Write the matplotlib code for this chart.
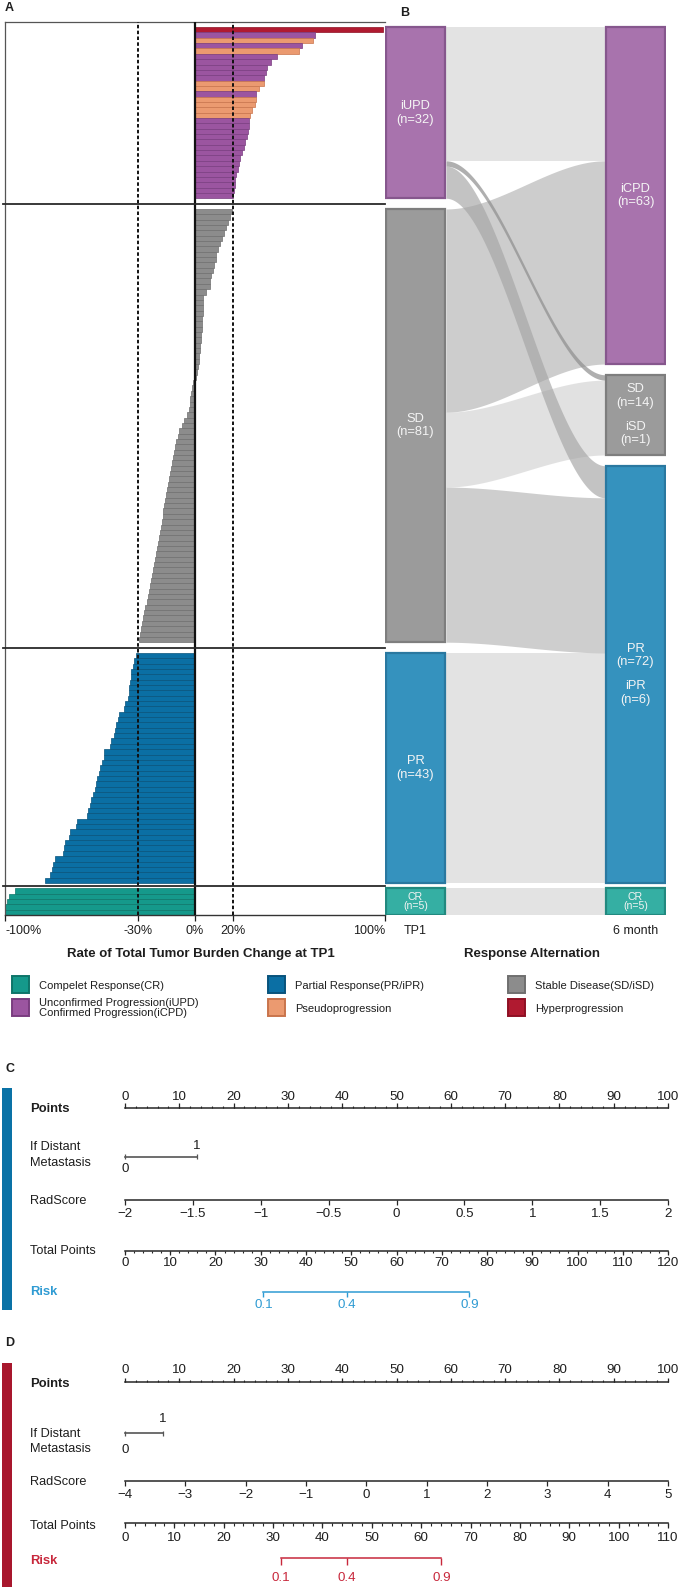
import matplotlib
matplotlib.use("Agg")
import matplotlib.pyplot as plt
import numpy as np
from matplotlib.patches import Rectangle

plt.rcParams['font.family'] = ['Liberation Sans', 'DejaVu Sans']
plt.rcParams['font.size'] = 9
plt.rcParams['text.color'] = '#1e1e1e'
plt.rcParams['xtick.color'] = '#1e1e1e'

# ---------------- data ----------------
# A: rate of total tumour burden change at TP1 (%), one value per patient, top to bottom
pd_change = [99, 63.3, 62, 56.3, 54.7, 43.3, 40, 38, 37.2, 36.5, 36.5, 33.5, 32.3, 32, 31.8,
             30.2, 28.8, 28.6, 28.2, 27.9, 27.4, 26.5, 25.6, 24.9, 23.7, 23, 22.5, 21.8,
             21.2, 20.9, 20.5, 20.2]
pd_type = ['H', 'U', 'P', 'U', 'P', 'U', 'U', 'U', 'U', 'U', 'P', 'P', 'U', 'P', 'P', 'P', 'P'] + ['U'] * 15
sd_change = [19.3, 18.4, 17.2, 16.1, 15.3, 14.0, 13.2, 11.9, 11.2, 10.9, 10.2, 9.3, 8.4, 7.9,
             7.7, 5.6, 4.4, 4.2, 4.0, 4.0, 3.9, 3.7, 3.5, 3.3, 3.0, 2.8, 2.6, 2.3, 1.9, 1.4,
             1.0, 0.4,
             -1.2, -1.6, -2.0, -2.4, -2.8, -3.3, -4.2, -5.6, -7.0, -8.3,
             -9.0, -9.8, -10.4, -10.9, -11.5, -12.0, -12.6, -13.1, -13.6, -14.2,
             -14.7, -15.1, -15.6, -16.1, -16.6, -17.0, -17.5, -17.9, -18.4, -18.8,
             -19.3, -19.8, -20.3, -20.8, -21.4, -22.0, -22.6, -23.1, -23.7, -24.3,
             -24.9, -25.5, -26.1, -26.7, -27.3, -27.9, -28.5, -29.1, -29.6]
pr_change = [-31, -31.9, -32.8, -33.5, -33.7, -34.2, -34.6, -34.9, -35.4, -36.7, -37.4, -40,
             -40.4, -41.6, -42.1, -42.8, -44.4, -44.9, -47.7, -47.9, -49.1, -50, -50.4, -51.8,
             -52.1, -52.6, -53.5, -54.6, -55.3, -56.1, -56.7, -61.9, -62.6, -65.8, -66.3,
             -68.2, -68.9, -69.6, -73.5, -74.6, -75.3, -76.3, -78.9]
cr_change = [-95, -98, -99, -100, -100]
pct_ticks = [-100, -30, 0, 20, 100]

# B: response alternation TP1 -> 6 month
tp1_nodes = ['iUPD', 'SD', 'PR', 'CR']
tp1_text = [['iUPD\n(n=32)'], ['SD\n(n=81)'], ['PR\n(n=43)'], ['CR\n(n=5)']]
m6_nodes = ['iCPD', 'SD', 'PR', 'CR']
m6_counts = [63, 15, 78, 5]
m6_text = [['iCPD\n(n=63)'], ['SD\n(n=14)', 'iSD\n(n=1)'], ['PR\n(n=72)', 'iPR\n(n=6)'], ['CR\n(n=5)']]
flow_src = ['iUPD', 'iUPD', 'iUPD', 'SD', 'SD', 'SD', 'PR', 'CR']
flow_dst = ['iCPD', 'SD', 'PR', 'iCPD', 'SD', 'PR', 'PR', 'CR']
flow_n = [25, 1, 6, 38, 14, 29, 43, 5]

# C / D nomograms
c_rad = [-2, -1.5, -1, -0.5, 0, 0.5, 1, 1.5, 2]
c_total_max = 120
c_meta_pts = 13.2
c_risk_total = [30.6, 49.1, 76.1]
d_rad = [-4, -3, -2, -1, 0, 1, 2, 3, 4, 5]
d_total_max = 110
d_meta_pts = 7.0
d_risk_total = [31.6, 45.0, 64.1]
risk_labels = ['0.1', '0.4', '0.9']

# ---------------- style ----------------
bar_face = {'H': '#b01a30', 'U': '#9b55a0', 'P': '#eb9a70', 'SD': '#8c8c8c', 'PR': '#0b6fa4', 'CR': '#15998b'}
bar_edge = {'H': '#8e1024', 'U': '#7a3d80', 'P': '#c9744c', 'SD': '#6f6f6f', 'PR': '#08537c', 'CR': '#0e7569'}
node_face = {'iUPD': '#a873ad', 'iCPD': '#a873ad', 'SD': '#9b9b9b', 'PR': '#3592be', 'CR': '#35afa3'}
node_edge = {'iUPD': '#86578d', 'iCPD': '#86578d', 'SD': '#7e7e7e', 'PR': '#2a78a0', 'CR': '#22897f'}
flow_style = [('#e3e3e3', 1.0, 1), ('#8e8e8e', 0.7, 6), ('#a4a4a4', 0.65, 5),
              ('#bdbdbd', 0.75, 4), ('#d8d8d8', 0.75, 2), ('#c2c2c2', 0.8, 3),
              ('#e3e3e3', 1.0, 1), ('#e3e3e3', 1.0, 1)]
ink = '#262626'

W, H = 679, 1587
fig = plt.figure(figsize=(W / 100, H / 100), dpi=100)


def box(x0, y0, x1, y1):
    return [x0 / W, 1 - y1 / H, (x1 - x0) / W, (y1 - y0) / H]


def fy(y):
    return 1 - y / H


# ---------------- A: waterfall ----------------
groups = [pd_change, sd_change, pr_change, cr_change]
gaps = [2.0, 2.0, 1.0]
starts = [0.0]
for g, gap in zip(groups[:-1], gaps):
    starts.append(starts[-1] + len(g) + gap)
y_end = starts[-1] + len(groups[-1])
y_top = -0.95

ax = fig.add_axes(box(5, 22, 385, 915))
kinds = [pd_type, ['SD'] * len(sd_change), ['PR'] * len(pr_change), ['CR'] * len(cr_change)]
for s, vals, kk in zip(starts, groups, kinds):
    y = s + np.arange(len(vals)) + 0.5
    ax.barh(y, vals, height=1.0, color=[bar_face[k] for k in kk],
            edgecolor=[bar_edge[k] for k in kk], linewidth=0.5, zorder=2)
ax.set_xlim(-100, 100)
ax.set_ylim(y_end, y_top)
ax.axvline(0, color='#111111', lw=1.6, zorder=4)
for xv in (-30, 20):
    ax.axvline(xv, color='#111111', lw=1.4, ls=(0, (1.8, 1.2)), zorder=4)
for k in range(1, 4):
    yy = starts[k] - gaps[k - 1] / 2
    ax.plot([-101, 100], [yy, yy], color='#2a2a2a', lw=1.3, clip_on=False, zorder=5)
ax.set_yticks([])
ax.set_xticks(pct_ticks, [f'{v}%' for v in pct_ticks])
tl = ax.get_xticklabels()
tl[0].set_ha('left')
tl[-1].set_ha('right')
ax.tick_params(axis='x', length=4, width=0.9, labelsize=9)
ax.spines['right'].set_visible(False)
for sp in ('left', 'top'):
    ax.spines[sp].set_color('#555555')
    ax.spines[sp].set_linewidth(0.9)
ax.spines['bottom'].set_color('#333333')
ax.spines['bottom'].set_linewidth(1.0)

# ---------------- B: alluvial ----------------
ax2 = fig.add_axes(box(385, 22, 666, 915))
span, node_w = 281, 61
ax2.set_xlim(0, span)
ax2.set_ylim(y_end, y_top)
tp1_counts = [len(g) for g in groups]
m6_starts = [0.0]
for n, gap in zip(m6_counts[:-1], gaps):
    m6_starts.append(m6_starts[-1] + n + gap)

out_off = dict(zip(tp1_nodes, starts))
in_off = dict(zip(m6_nodes, m6_starts))
t = np.linspace(0, 1, 150)
sm = t * t * (3 - 2 * t)
xs = node_w + t * (span - 2 * node_w)
for src, dst, n, (col, al, z) in zip(flow_src, flow_dst, flow_n, flow_style):
    a, b = out_off[src], in_off[dst]
    out_off[src] += n
    in_off[dst] += n
    top = a + (b - a) * sm
    ax2.fill_between(xs, top, top + n, color=col, alpha=al, lw=0, zorder=z)

for names, sts, cnts, texts, x0 in ((tp1_nodes, starts, tp1_counts, tp1_text, 0),
                                    (m6_nodes, m6_starts, m6_counts, m6_text, span - node_w)):
    for nm, s, c, blocks in zip(names, sts, cnts, texts):
        ax2.add_patch(Rectangle((x0 + 0.8, s), node_w - 1.6, c, facecolor=node_face[nm],
                                edgecolor=node_edge[nm], lw=1.6, zorder=10))
        small = nm == 'CR'
        shift = np.linspace(-3.5, 3.5, len(blocks)) if len(blocks) > 1 else [0]
        for tx, dy in zip(blocks, shift):
            ax2.text(x0 + node_w / 2, s + c / 2 + dy, tx, ha='center', va='center', color='#f4f4f4',
                     fontsize=7.6 if small else 9.3, linespacing=0.8 if small else 1.2, zorder=11)
ax2.set_xticks([node_w / 2, span - node_w / 2], ['TP1', '6 month'])
ax2.tick_params(axis='x', length=0, pad=7.5, labelsize=9)
ax2.set_yticks([])
for sp in ax2.spines.values():
    sp.set_visible(False)
ax2.patch.set_alpha(0)

fig.text(201 / W, fy(954), 'Rate of Total Tumor Burden Change at TP1', ha='center', va='center',
         fontsize=9.5, fontweight='bold')
fig.text(532 / W, fy(954), 'Response Alternation', ha='center', va='center',
         fontsize=9.5, fontweight='bold')

# legend
legend_items = [
    (12, 976, 'CR', ['Compelet Response(CR)']),
    (12, 999, 'U', ['Unconfirmed Progression(iUPD)', 'Confirmed Progression(iCPD)']),
    (268, 976, 'PR', ['Partial Response(PR/iPR)']),
    (268, 999, 'P', ['Pseudoprogression']),
    (508, 976, 'SD', ['Stable Disease(SD/iSD)']),
    (508, 999, 'H', ['Hyperprogression']),
]
for x0, y0, key, lines in legend_items:
    fig.add_artist(Rectangle((x0 / W, fy(y0 + 17)), 17 / W, 17 / H, transform=fig.transFigure,
                             facecolor=bar_face[key], edgecolor=bar_edge[key], lw=1.4))
    if len(lines) == 1:
        fig.text((x0 + 27) / W, fy(y0 + 9.5), lines[0], va='center', fontsize=8)
    else:
        fig.text((x0 + 27) / W, fy(y0 + 4), lines[0], va='center', fontsize=8)
        fig.text((x0 + 27) / W, fy(y0 + 14.5), lines[1], va='center', fontsize=8)

fig.text(5 / W, fy(8), 'A', fontsize=9, fontweight='bold', va='center')
fig.text(400 / W, fy(13), 'B', fontsize=9, fontweight='bold', va='center')


# ---------------- C / D: nomograms ----------------
def nomogram(top, bottom, rows, labs, offs, rad, total_max, meta_pts, risk_total, accent, side):
    axn = fig.add_axes(box(0, top, W, bottom))
    px = 5.43
    axn.set_xlim(-125 / px, (W - 125) / px)
    axn.set_ylim(bottom, top)
    axn.axis('off')
    tr = axn.get_yaxis_transform()
    fig.add_artist(Rectangle((2 / W, fy(side[1])), 10 / W, (side[1] - side[0]) / H,
                             transform=fig.transFigure, facecolor=accent[0], lw=0))
    fs = 9.6

    # row labels
    axn.text(30 / W, labs[0], 'Points', transform=tr, va='center', fontsize=9.4, fontweight='bold')
    axn.text(30 / W, labs[1], 'If Distant', transform=tr, va='center', fontsize=9.2)
    axn.text(30 / W, labs[2], 'Metastasis', transform=tr, va='center', fontsize=9.2)
    axn.text(30 / W, labs[3], 'RadScore', transform=tr, va='center', fontsize=9.2)
    axn.text(30 / W, labs[4], 'Total Points', transform=tr, va='center', fontsize=9.2)
    axn.text(30 / W, labs[5], 'Risk', transform=tr, va='center', fontsize=9.4,
             fontweight='bold', color=accent[1])

    # points scale
    y = rows[0]
    axn.plot([0, 100], [y, y], color=ink, lw=1.1)
    axn.vlines(np.arange(0, 101, 2), y - 2.3, y, color=ink, lw=0.8)
    axn.vlines(np.arange(0, 101, 10), y - 4.5, y, color=ink, lw=0.9)
    for v in range(0, 101, 10):
        axn.text(v, y + offs[0], str(v), ha='center', va='center', fontsize=fs)

    # distant metastasis
    y = rows[1]
    axn.plot([0, meta_pts], [y, y], color='#555555', lw=1.2)
    axn.vlines([0, meta_pts], y - 2.5, y + 2.5, color='#555555', lw=0.9)
    axn.text(meta_pts, y + offs[1], '1', ha='center', va='center', fontsize=fs)
    axn.text(0, y + offs[2], '0', ha='center', va='center', fontsize=fs)

    # radscore
    y = rows[2]
    rp = [(v - rad[0]) / (rad[-1] - rad[0]) * 100 for v in rad]
    axn.plot([0, 100], [y, y], color=ink, lw=1.1)
    axn.vlines(rp, y, y + 5, color=ink, lw=0.9)
    for v, p in zip(rad, rp):
        axn.text(p, y + offs[3], f'{v:g}'.replace('-', '\u2212'), ha='center', va='center', fontsize=fs)

    # total points
    y = rows[3]
    axn.plot([0, 100], [y, y], color=ink, lw=1.1)
    axn.vlines(np.arange(0, total_max + 1, 2) / total_max * 100, y, y + 2.5, color=ink, lw=0.8)
    maj = np.arange(0, total_max + 1, 10)
    axn.vlines(maj / total_max * 100, y, y + 4.5, color=ink, lw=0.9)
    for v in maj:
        axn.text(v / total_max * 100, y + offs[4], str(v), ha='center', va='center', fontsize=fs)

    # risk
    y = rows[4]
    rk = [v / total_max * 100 for v in risk_total]
    axn.plot([rk[0], rk[-1]], [y, y], color=accent[1], lw=1.1)
    axn.vlines(rk, y, y + offs[5], color=accent[1], lw=1.0)
    for lab, p in zip(risk_labels, rk):
        axn.text(p, y + offs[6], lab, ha='center', va='center', fontsize=fs, color=accent[1])


fig.text(5 / W, fy(1069), 'C', fontsize=9, fontweight='bold', va='center')
nomogram(1060, 1320, [1108, 1157, 1200, 1251, 1292], [1109, 1147, 1163, 1201, 1251, 1292],
         [-11, -11, 12, 14, 12, 5, 13], c_rad, c_total_max, c_meta_pts, c_risk_total,
         ('#0a72a6', '#2f9bd3'), (1088, 1310))

fig.text(5 / W, fy(1343), 'D', fontsize=9, fontweight='bold', va='center')
nomogram(1330, 1587, [1382, 1433, 1481, 1523, 1558], [1384, 1434, 1449, 1482, 1526, 1561],
         [-12, -14, 17, 14, 15, 7, 20], d_rad, d_total_max, d_meta_pts, d_risk_total,
         ('#a8172d', '#c8283c'), (1363, 1587))

fig.savefig('out.png', dpi=100)
